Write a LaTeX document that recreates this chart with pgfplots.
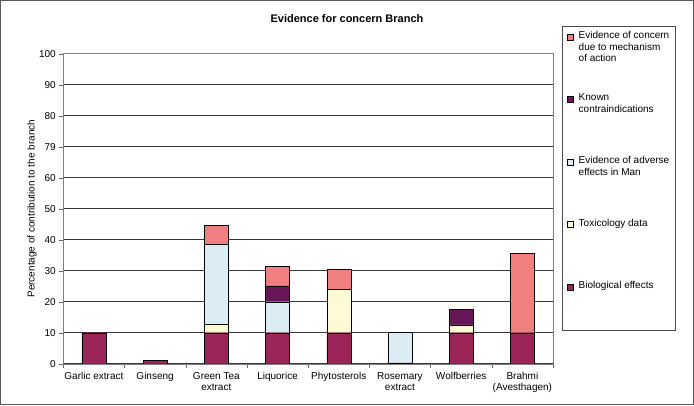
\documentclass[border=0pt]{standalone}
\usepackage{pgfplots}
\pgfplotsset{compat=1.18}
\usepackage{fontspec}
\setmainfont{Liberation Sans}
\definecolor{cBio}{HTML}{9B2458}
\definecolor{cTox}{HTML}{FFFAD6}
\definecolor{cAdv}{HTML}{DCECF4}
\definecolor{cKnown}{HTML}{661659}
\definecolor{cConc}{HTML}{F07F7F}
\pgfplotsset{mylegend/.style={legend image code/.code={\draw[##1,draw=black,line width=0.4pt] (0pt,-1.5pt) rectangle (6pt,4.5pt);}}}
\newcommand{\lent}[2]{\parbox[t][#1][t]{92pt}{\raggedright\fontsize{10}{11.5}\selectfont #2}}
\begin{document}
\begin{tikzpicture}
\path[use as bounding box] (0pt,0pt) rectangle (694pt,405pt);
\draw[black!65,line width=1pt] (0.5pt,0.5pt) rectangle (693.5pt,404.5pt);
\begin{axis}[
  at={(63.3pt,41.3pt)}, anchor=south west,
  scale only axis, width=489.7pt, height=310pt,
  ybar stacked, bar width=24pt,
  xmin=-0.5, xmax=7.5, ymin=0, ymax=100,
  ytick={0,10,...,100},
  yticklabels={0,10,20,30,40,50,60,79,80,90,100},
  xtick={0,...,7},
  xticklabels={Garlic extract,Ginseng,Green Tea\\extract,Liquorice,Phytosterols,Rosemary\\extract,Wolfberries,Brahmi\\(Avesthagen)},
  minor xtick={-0.5,0.5,...,7.5},
  major x tick style={draw=none},
  minor x tick style={black!60},
  minor tick length=4pt,
  major tick length=4pt,
  tick align=outside,
  xtick pos=bottom, ytick pos=left,
  ytick style={black!60},
  axis line style={black!50},
  ymajorgrids, grid style={black!78,line width=0.5pt},
  tick label style={font=\fontsize{10}{11.5}\selectfont},
  xticklabel style={align=center, yshift=-1pt},
  /pgf/number format/assume math mode=true,
  ylabel={Percentage of contribution to the branch},
  ylabel style={at={(axis description cs:-0.064,0.5)}, anchor=center, font=\fontsize{10}{12}\selectfont},
  title={Evidence for concern Branch},
  title style={at={(axis description cs:0.5793,1.093)}, anchor=center, font=\fontsize{11}{13}\selectfont\bfseries},
  reverse legend,
  legend style={at={(axis description cs:1.0184,1.0894)}, anchor=north west,
    draw=black!70, line width=0.6pt, fill=white,
    inner xsep=5pt, inner ysep=5pt, row sep=0pt, column sep=5pt,
    nodes={inner sep=0pt, text depth=, anchor=base west},
    cells={anchor=base west}},
]
\addplot[mylegend, fill=cBio, draw=black, line width=0.4pt] coordinates {(0,10) (1,1.1) (2,10) (3,10) (4,10) (5,0.3) (6,10) (7,10)};
\addlegendentry{\lent{44.5pt}{Biological effects}}
\addplot[mylegend, fill=cTox, draw=black, line width=0.4pt] coordinates {(0,0) (1,0) (2,2.8) (3,0) (4,14) (5,0) (6,2.5) (7,0)};
\addlegendentry{\lent{62.5pt}{Toxicology data}}
\addplot[mylegend, fill=cAdv, draw=black, line width=0.4pt] coordinates {(0,0) (1,0) (2,25.7) (3,10) (4,0) (5,10) (6,0) (7,0)};
\addlegendentry{\lent{62.5pt}{Evidence of adverse\\effects in Man}}
\addplot[mylegend, fill=cKnown, draw=black, line width=0.4pt] coordinates {(0,0) (1,0) (2,0) (3,5.1) (4,0) (5,0) (6,5) (7,0)};
\addlegendentry{\lent{62.5pt}{Known\\contraindications}}
\addplot[mylegend, fill=cConc, draw=black, line width=0.4pt] coordinates {(0,0) (1,0) (2,6.2) (3,6.2) (4,6.5) (5,0) (6,0) (7,25.6)};
\addlegendentry{\lent{62.5pt}{Evidence of concern\\due to mechanism\\of action}}
\end{axis}
\end{tikzpicture}
\end{document}
